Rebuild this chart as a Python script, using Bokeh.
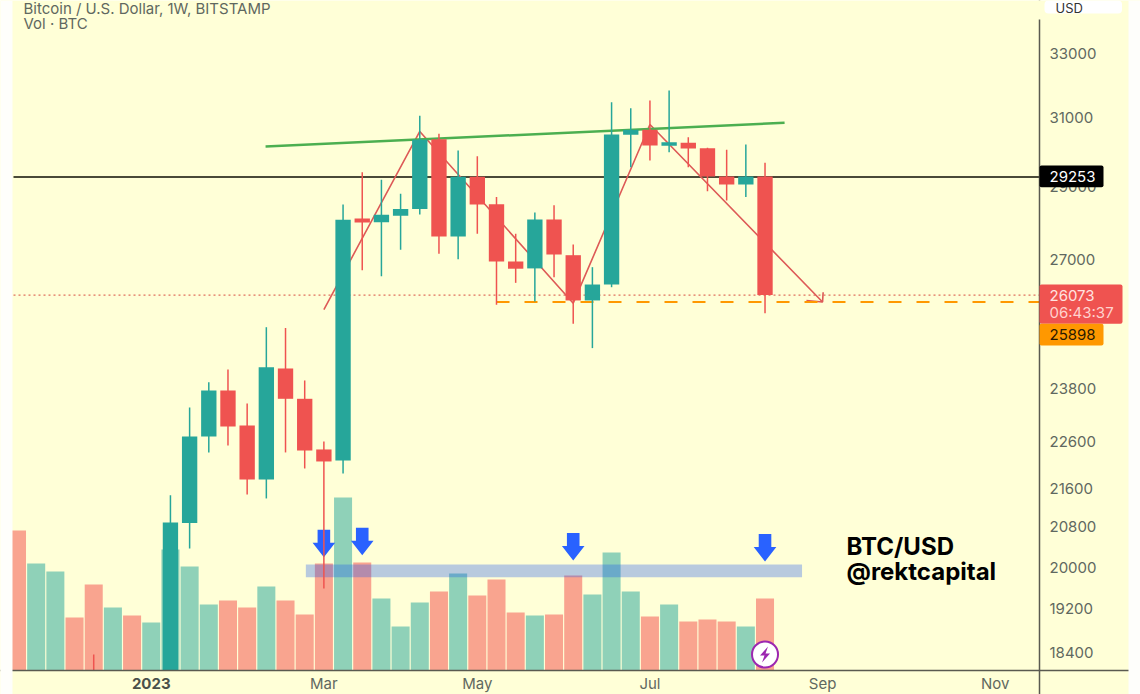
from bokeh.plotting import figure
from bokeh.models import (Range1d, LinearScale, FixedTicker, PrintfTickFormatter, Label,
                          BoxAnnotation, ColumnDataSource)
from bokeh.embed import file_html
from bokeh.resources import INLINE

# ---- data ----
PRICE_TICKS = [33000, 31000, 29000, 27000, 23800, 22600, 21600, 20800, 20000, 19200, 18400]
DATE_TICKS = {7: "", 16: "Mar", 24: "May", 33: "Jul", 42: "Sep", 51: "Nov"}

VOLUME = [140, 107, 99, 53, 86, 63, 55, 48, 121, 104, 66, 70, 63, 84, 70, 56, 107, 173, 108, 72,
          44, 68, 79, 97, 75, 91, 58, 55, 56, 95, 76, 118, 79, 54, 66, 49, 51, 49, 44, 72]
VOLUME_DIR = ["d", "u", "u", "d", "d", "u", "d", "u", "u", "u", "u", "d", "d", "u", "d", "d", "d", "u", "d", "u",
              "u", "u", "d", "u", "d", "d", "d", "u", "d", "d", "u", "u", "u", "d", "u", "d", "d", "d", "u", "d"]

# the first two candles run off the bottom of the pane, so they stop at the pane's lowest price
WEEK = [4, 8, 9, 10, 11, 12, 13, 14, 15, 16, 17, 18, 19, 20, 21, 22, 23, 24, 25, 26, 27, 28, 29, 30,
        31, 32, 33, 34, 35, 36, 37, 38, 39]
OPEN = [18090, 18077, 20880, 22716, 23760, 22961, 21784, 24273, 23566, 22430, 22192, 28096, 27994, 28170,
        28354, 30355, 27607, 29260, 28490, 26942, 26761, 28067, 27108, 25938, 26344, 30485, 30634, 30158,
        30250, 30089, 29270, 29042, 29270]
CLOSE = [18080, 20890, 22716, 23760, 22939, 21784, 24304, 23566, 22407, 22169, 28058, 27986, 28198, 28354,
         30346, 27607, 29260, 28482, 26942, 26753, 28067, 27127, 25938, 26344, 30494, 30634, 30169, 30264,
         30079, 29270, 29042, 29270, 26073]
HIGH = [18367, 21450, 23365, 23952, 24249, 23459, 25270, 25250, 23991, 22606, 28482, 29392, 29178, 28780,
        31056, 30515, 30021, 29855, 28688, 27681, 28261, 28462, 27393, 26793, 31469, 31287, 31522, 31828,
        30414, 30100, 30042, 30197, 29664]
LOW = [18077, 18077, 20367, 22365, 22519, 21467, 21384, 22365, 22018, 19587, 21911, 26716, 26557, 27251,
       28206, 27145, 27004, 27681, 25829, 26387, 25911, 26532, 25354, 24760, 26275, 29535, 29729, 29973,
       29535, 28851, 28594, 28688, 25617]

PANE_BOTTOM_PRICE = 18077
LAST_CLOSE = 26073
LEVEL_BLACK = 29253
LEVEL_ORANGE = 25898
ORANGE_START = 25
GREEN_X = [12.96, 40.02]
GREEN_P = [30139, 30844]
ZIG_X = [16.0, 21.0, 29.0, 33.0, 42.0]
ZIG_P = [25709, 30585, 25869, 30793, 25898]
HEAD_X = [42.03, 42.0, 41.16]
HEAD_P = [26148, 25898, 25938]
BAND_X = [15.06, 40.93]
BAND_P = [19802, 20050]
ARROW_WEEK = [16, 18, 29, 39]
ARROW_TIP = [113.3, 115.3, 110, 109]

# ---- geometry ----
W, H = 1140, 694
LEFT, RIGHT, TOP, BOTTOM = 13, 1039, 19, 670
STEP = 19.18
X0 = 16.5
YEL = "#FFFFD7"
GREEN = "#26A69A"
RED = "#EF5350"
VOL_G = "#8FD1B8"
VOL_R = "#F9A48F"
FONT = "Inter"
GREY = "#5F6860"
IDX_L = (LEFT - X0) / STEP
IDX_R = (RIGHT - X0) / STEP

p = figure(width=W, height=H, output_backend="svg", toolbar_location=None,
           y_axis_type="log", y_axis_location="right",
           x_range=Range1d((0 - X0) / STEP, (W - X0) / STEP),
           y_range=Range1d(17663, 34750),
           min_border_left=0, min_border_right=0, min_border_top=0, min_border_bottom=0,
           background_fill_color=YEL, border_fill_color=YEL, outline_line_color=None)
p.extra_y_ranges = {"vol": Range1d(BOTTOM - H, BOTTOM)}
p.extra_y_scales = {"vol": LinearScale()}
p.grid.visible = False

p.yaxis.ticker = FixedTicker(ticks=PRICE_TICKS)
p.yaxis.formatter = PrintfTickFormatter(format="%d")
p.xaxis.ticker = FixedTicker(ticks=list(DATE_TICKS))
p.xaxis.major_label_overrides = DATE_TICKS
for ax in (p.xaxis[0], p.yaxis[0]):
    ax.major_tick_line_color = None
    ax.minor_tick_line_color = None
    ax.major_tick_in = 0
    ax.major_tick_out = 0
    ax.minor_tick_in = 0
    ax.minor_tick_out = 0
    ax.axis_line_color = "#5A5A50"
    ax.axis_line_width = 1.5
    ax.major_label_text_font = FONT
    ax.major_label_text_font_size = "15px"
    ax.major_label_text_color = GREY
p.yaxis[0].fixed_location = IDX_R
p.xaxis[0].fixed_location = PANE_BOTTOM_PRICE
p.yaxis.major_label_standoff = 10
p.xaxis.major_label_standoff = 3

# horizontal levels
p.line([IDX_L, IDX_R], [LEVEL_BLACK, LEVEL_BLACK], line_color="#4A4A38", line_width=2)
p.line([IDX_L, IDX_R], [LAST_CLOSE, LAST_CLOSE], line_color="#E0705F", line_width=1.3, line_dash="2 3")

# volume
vol_src = ColumnDataSource(dict(x=list(range(len(VOLUME))), top=VOLUME,
                                color=[VOL_G if d == "u" else VOL_R for d in VOLUME_DIR]))
p.vbar(x="x", top="top", bottom=0, width=0.94, fill_color="color", line_color=None, source=vol_src,
       y_range_name="vol")

# blue band
p.quad(left=BAND_X[0], right=BAND_X[1], bottom=BAND_P[0], top=BAND_P[1], fill_color="#1A55F0",
       fill_alpha=0.31, line_color=None)

# blue arrows, outline offsets in pixels
SHAFT = [(-6.3, -27.4), (6.3, -27.4), (6.3, -14.4), (11.3, -14.4), (0, 0), (-11.3, -14.4), (-6.3, -14.4)]
p.patches(xs=[[w + dx / STEP for dx, _ in SHAFT] for w in ARROW_WEEK],
          ys=[[t - dy for _, dy in SHAFT] for t in ARROW_TIP],
          fill_color="#2962FF", line_color=None, y_range_name="vol")

# drawn lines
p.line(ZIG_X, ZIG_P, line_color="#DD5A57", line_width=1.6)
p.line(HEAD_X, HEAD_P, line_color="#DD5A57", line_width=1.6)
p.line(GREEN_X, GREEN_P, line_color="#4CAF50", line_width=2.5)
p.line([ORANGE_START, IDX_R], [LEVEL_ORANGE, LEVEL_ORANGE], line_color="#FF9800", line_width=2,
       line_dash="13 15")

# candles
colors = [GREEN if c >= o else RED for o, c in zip(OPEN, CLOSE)]
src = ColumnDataSource(dict(x=WEEK, o=OPEN, c=CLOSE, h=HIGH, l=LOW, color=colors,
                            top=[max(a, b) for a, b in zip(OPEN, CLOSE)],
                            bottom=[min(a, b) for a, b in zip(OPEN, CLOSE)]))
p.segment(x0="x", x1="x", y0="l", y1="h", line_color="color", line_width=1.5, source=src)
p.vbar(x="x", top="top", bottom="bottom", width=0.8, fill_color="color", line_color=None, source=src)


def fy(v):
    return H - v


def box(l, r, t, b, color, radius=0):
    p.add_layout(BoxAnnotation(left=l, right=r, top=fy(t), bottom=fy(b),
                               left_units="screen", right_units="screen", top_units="screen",
                               bottom_units="screen", fill_color=color, fill_alpha=1, line_color=None,
                               border_radius=radius))


def label(text, x, y, size=15, color=GREY, style="normal", align="left"):
    p.add_layout(Label(x=x, y=fy(y), x_units="screen", y_units="screen", text=text,
                       text_font=FONT, text_font_size=f"{size}px", text_color=color, text_font_style=style,
                       text_align=align, text_baseline="middle"))


# page strips either side of the pale panel, top end of the price axis
box(0, 12, 0, H, "#FEFEFB")
box(1128, W, 0, H, "#FEFEFB")
box(RIGHT - 2, RIGHT + 2, 0, TOP, YEL)

# header
label("Bitcoin / U.S. Dollar, 1W, BITSTAMP", 23, 8)
label("Vol · BTC", 23, 23)
box(1044, 1121.5, 0, 13, "#FFFFFF", 4)
label("USD", 1055, 7, size=13, color="#333333")

# price tags
box(RIGHT, 1103, 165, 186.7, "#000000", 2)
label(str(LEVEL_BLACK), 1049, 176, color="#FFFFFF")
box(RIGHT, 1122, 284, 323.3, "#EF5350", 2)
label(str(LAST_CLOSE), 1049, 295, color="#FFE3E0")
label("06:43:37", 1049, 312, color="#FFD2CE")
box(RIGHT, 1103, 323.3, 345, "#FF9800", 2)
label(str(LEVEL_ORANGE), 1049, 334, color="#2A1A00")

# year label
p.add_layout(Label(x=7, y=fy(683), y_units="screen", text="2023", text_font=FONT, text_font_size="15px",
                   text_font_style="bold", text_color="#4A504A", text_align="center", text_baseline="middle"))

# watermark text
label("BTC/USD", 846, 546, size=24, color="#000000", style="bold")
label("@rektcapital", 846, 571, size=24, color="#000000", style="bold")

# lightning badge
ICON_WEEK, ICON_VOL = 39, 16
p.scatter([ICON_WEEK], [ICON_VOL], size=26, marker="circle", fill_color="#FFFFFF", line_color="#9C27B0",
          line_width=2, y_range_name="vol")
BOLT = [(3, -8), (-5, 1), (-0.5, 1), (-3, 8), (5, -1), (0.5, -1)]
p.patch([ICON_WEEK + dx / STEP for dx, _ in BOLT], [ICON_VOL - dy for _, dy in BOLT],
        fill_color="#9C27B0", line_color=None, y_range_name="vol")

open("out.html", "w").write(file_html(p, INLINE))
